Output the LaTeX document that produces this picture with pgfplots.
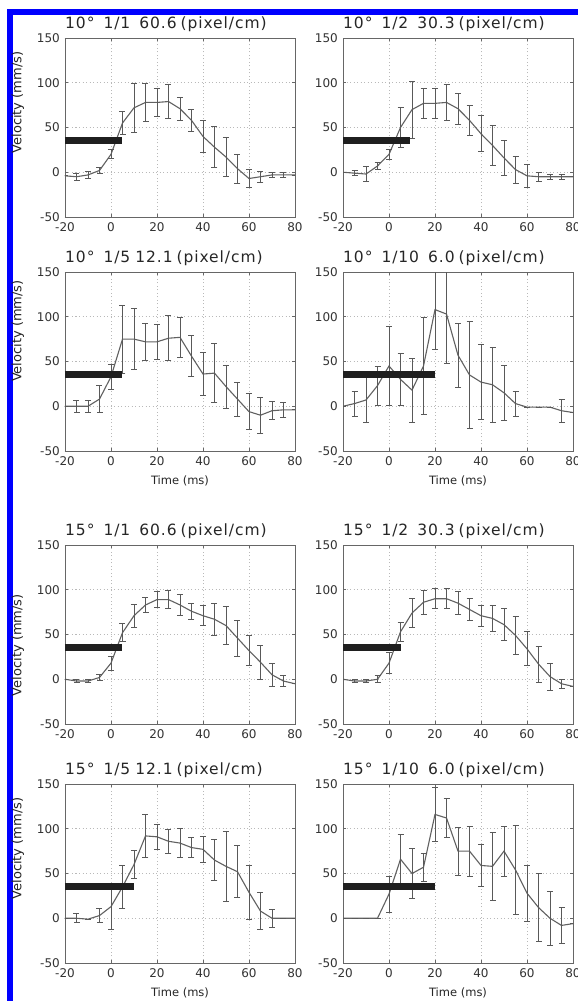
\documentclass[border=0pt]{standalone}
\usepackage{fontspec}
\setmainfont{DejaVu Sans}
\newfontfamily\tfont[LetterSpace=6]{DejaVu Sans}
\usepackage{pgfplots}
\usepackage{pgfplotstable}
\pgfplotsset{compat=1.18}

\pgfplotstableread{
x y e
-20 -4 0
-15 -5 4
-10 -3 4
-5 2 3
0 20 5
5 55 13
10 72 27
15 78 21
20 78 16
25 79 19
30 71 13
35 58 12
40 40 18
45 28 23
50 17 22
55 4 16
60 -7 10
65 -5 6
70 -3 3
75 -3 3
80 -3 0
}\tA
\pgfplotstableread{
x y e
-20 0 0
-15 -1 3
-10 -2 8
-5 7 4
0 20 6
5 50 22
10 70 32
15 77 17
20 77 17
25 78 20
30 71 17
35 58 17
40 43 20
45 30 22
50 16 20
55 3 15
60 -4 13
65 -5 5
70 -5 3
75 -5 3
80 -5 0
}\tB
\pgfplotstableread{
x y e
-20 0 0
-15 0 7
-10 0 7
-5 8 15
0 33 14
5 75 38
10 75 34
15 72 21
20 72 20
25 76 25
30 77 22
35 56 23
40 36 24
45 37 33
50 22 24
55 8 19
60 -6 20
65 -10 20
70 -5 10
75 -4 8
80 -4 0
}\tC
\pgfplotstableread{
x y e
-20 0 0
-15 3 14
-10 7 25
-5 23 22
0 45 44
5 30 29
10 18 36
15 45 54
20 108 45
25 103 55
30 57 36
35 35 60
40 27 42
45 24 42
50 15 31
55 3 14
60 -1 0
65 -1 0
70 -1 0
75 -5 13
80 -7 0
}\tD
\pgfplotstableread{
x y e
-20 0 0
-15 -2 2
-10 -2 2
-5 2 3
0 18 8
5 52 10
10 71 13
15 83 8
20 89 9
25 89 10
30 83 12
35 76 9
40 71 11
45 67 18
50 60 21
55 46 20
60 32 17
65 19 19
70 5 13
75 -2 6
80 -5 0
}\tE
\pgfplotstableread{
x y e
-20 0 0
-15 -2 2
-10 -2 2
-5 0 4
0 18 12
5 53 11
10 74 16
15 86 13
20 90 11
25 90 11
30 85 13
35 78 12
40 71 12
45 68 15
50 61 18
55 49 21
60 34 19
65 17 20
70 3 15
75 -5 5
80 -8 0
}\tF
\pgfplotstableread{
x y e
-20 0 0
-15 0 5
-10 -1 0
-5 3 8
0 13 25
5 35 24
10 60 16
15 92 24
20 91 14
25 86 13
30 84 16
35 79 11
40 77 15
45 65 23
50 58 39
55 52 29
60 29 30
65 8 21
70 0 10
75 0 0
80 0 0
}\tG
\pgfplotstableread{
x y e
-20 0 0
-15 0 0
-10 0 0
-5 0 0
0 27 20
5 66 28
10 50 28
15 57 16
20 116 30
25 112 22
30 75 27
35 75 28
40 59 23
45 58 38
50 75 28
55 54 50
60 28 31
65 12 38
70 0 30
75 -8 20
80 -6 0
}\tH

\pgfplotsset{
  panel/.style={
    scale only axis, width=230pt, height=179pt,
    xmin=-20, xmax=80, ymin=-50, ymax=150,
    xtick={-20,0,...,80}, ytick={-50,0,...,150},
    grid=major, major grid style={gray!55, dash pattern=on 1pt off 2.5pt, line width=0.6pt},
    axis line style={black!60, line width=0.8pt},
    tick style={black!60, line width=0.6pt},
    tick align=inside, major tick length=3pt,
    /pgf/number format/assume math mode=true,
    ticklabel style={font=\fontsize{12}{12}\selectfont, text=black!80},
    xticklabel style={inner sep=0pt, yshift=-5pt},
    yticklabel style={inner sep=0pt, xshift=-5pt},
    title style={at={(axis description cs:0,1)}, anchor=base west, inner sep=0pt, yshift=3.5pt, font=\tfont\fontsize{15.5}{15.5}\selectfont, text=black!85},
    xlabel style={at={(axis description cs:0.5,0)}, anchor=north, inner sep=0pt, yshift=-25pt, font=\fontsize{11.5}{12}\selectfont, text=black!85},
    clip=true,
  },
  ylab/.style={ylabel={Velocity (mm/s)},
    ylabel style={at={(axis description cs:-0.205,#1)}, anchor=center, inner sep=0pt, font=\fontsize{13}{13}\selectfont, text=black!85}},
  curve/.style={black!62, line width=1.1pt, mark=none,
    error bars/.cd, y dir=both, y explicit,
    error bar style={black!65, line width=0.8pt},
    error mark options={black!65, line width=0.8pt, mark size=3pt, rotate=90}},
  stim/.style={black!88, line width=7pt, line cap=butt},
}

\newcommand{\panel}[7]{%
  \begin{axis}[panel, at={(#1pt,-#2pt)}, anchor=north west, title={#3}, #6]
    \addplot[curve] table[x=x, y=y, y error=e] {#4};
    \addplot[stim] coordinates {(-20,35) (#5,35)};
  \end{axis}}

\begin{document}
\begin{tikzpicture}
\path[use as bounding box, fill=white] (0,0) rectangle (578pt,-1001pt);
\draw[blue, line width=6pt] (10pt,-1001pt) -- (10pt,-12pt) -- (578pt,-12pt);
\panel{65}{38}{10°\hspace{9pt}1/1\hspace{9pt}60.6\hspace{4pt}(pixel/cm)}{\tA}{5}{ylab=0.64}{}
\panel{343}{38}{10°\hspace{9pt}1/2\hspace{9pt}30.3\hspace{4pt}(pixel/cm)}{\tB}{9}{}{}
\panel{65}{272}{10°\hspace{9pt}1/5\hspace{5pt}12.1\hspace{4pt}(pixel/cm)}{\tC}{5}{ylab=0.67, xlabel={Time (ms)}}{}
\panel{343}{272}{10°\hspace{9pt}1/10\hspace{9pt}6.0\hspace{4pt}(pixel/cm)}{\tD}{20}{xlabel={Time (ms)}}{}
\panel{65}{545}{15°\hspace{9pt}1/1\hspace{9pt}60.6\hspace{4pt}(pixel/cm)}{\tE}{5}{ylab=0.44}{}
\panel{343}{545}{15°\hspace{9pt}1/2\hspace{9pt}30.3\hspace{4pt}(pixel/cm)}{\tF}{5}{}{}
\panel{65}{784}{15°\hspace{9pt}1/5\hspace{5pt}12.1\hspace{4pt}(pixel/cm)}{\tG}{10}{ylab=0.64, xlabel={Time (ms)}}{}
\panel{343}{784}{15°\hspace{9pt}1/10\hspace{9pt}6.0\hspace{4pt}(pixel/cm)}{\tH}{20}{xlabel={Time (ms)}}{}
\end{tikzpicture}
\end{document}
